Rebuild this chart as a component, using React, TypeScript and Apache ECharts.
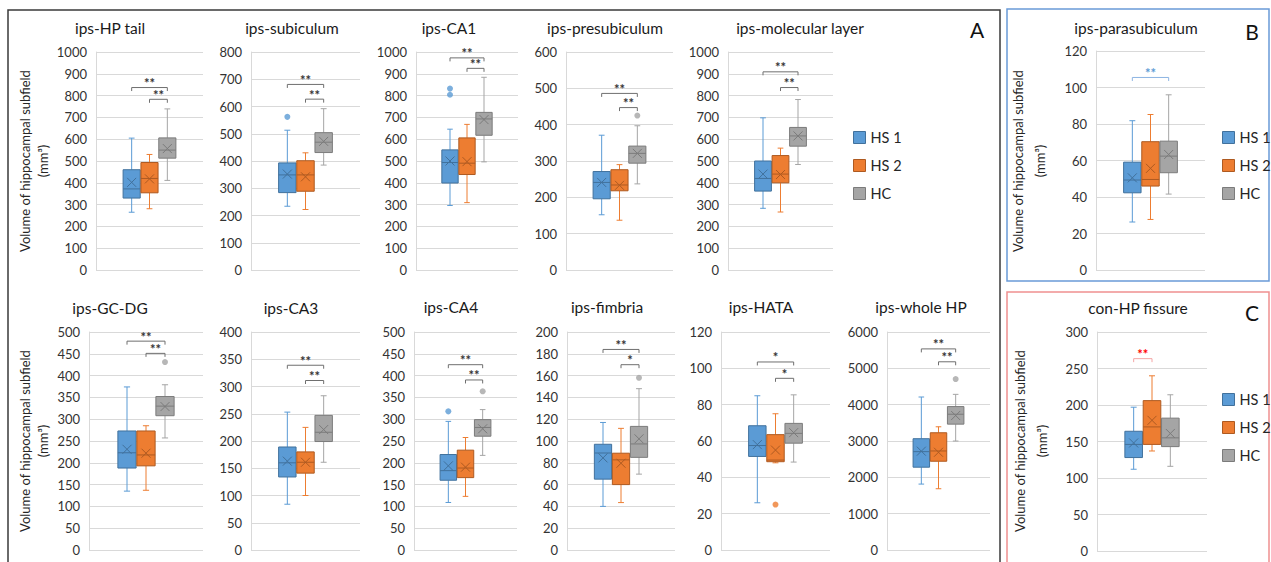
import React, { useEffect, useRef } from "react";
import * as echarts from "echarts";

// ---------- data ----------
const panelTitles = [
  "ips-HP tail", "ips-subiculum", "ips-CA1", "ips-presubiculum", "ips-molecular layer",
  "ips-GC-DG", "ips-CA3", "ips-CA4", "ips-fimbria", "ips-HATA", "ips-whole HP",
  "ips-parasubiculum", "con-HP fissure",
];
const yMax = [1000, 800, 1000, 600, 1000, 500, 400, 500, 200, 120, 6000, 120, 300];
const yStep = [100, 100, 100, 100, 100, 50, 50, 50, 20, 20, 1000, 20, 50];
const groupNames = ["HS 1", "HS 2", "HC"];

// [min, Q1, median, Q3, max, mean]
const hs1Stats = [
  [265, 330, 372, 460, 605, 402],
  [234, 284, 349, 393, 513, 352],
  [296, 399, 493, 551, 646, 500],
  [152, 196, 241, 271, 371, 241],
  [283, 362, 420, 500, 698, 440],
  [135, 188, 223, 273, 374, 231],
  [84, 134, 160, 189, 253, 163],
  [109, 160, 182, 219, 295, 193],
  [40, 65, 89, 97, 117, 84.5],
  [26, 51.5, 57.5, 68.4, 84.9, 58],
  [1814, 2279, 2707, 3063, 4211, 2720],
  [26.3, 42.3, 49.3, 59.1, 81.8, 50.5],
  [112, 128, 146, 164, 197, 148],
];
const hs2Stats = [
  [281, 354, 420, 493, 530, 418],
  [222, 289, 349, 401, 430, 342],
  [309, 438, 490, 606, 668, 497],
  [137, 218, 234, 276, 290, 233],
  [266, 400, 440, 525, 559, 438],
  [137, 193, 218, 273, 285, 222],
  [100, 141, 161, 180, 225, 161],
  [123, 166, 188, 229, 258, 190],
  [43.5, 60, 82.7, 88.8, 111.6, 79.6],
  [48, 48.6, 49.5, 63.5, 75, 55],
  [1686, 2443, 2726, 3227, 3391, 2690],
  [27.7, 46, 49.6, 70.3, 85.2, 55.7],
  [137, 146, 170, 206, 240, 179],
];
const hcStats = [
  [411, 513, 550, 606, 739, 557],
  [385, 431, 469, 504, 592, 472],
  [496, 618, 693, 723, 884, 690],
  [237, 294, 321, 341, 397, 321],
  [484, 568, 615, 654, 782, 615],
  [257, 308, 330, 352, 379, 329],
  [161, 199, 216, 247, 283, 221],
  [217, 261, 281, 299, 322, 278],
  [69.6, 85, 97.3, 113.4, 148, 102],
  [48.4, 58.8, 64.2, 69.7, 85.4, 64.6],
  [2999, 3464, 3737, 3947, 4284, 3701],
  [41.6, 53.3, 62.4, 70.6, 96, 63.3],
  [116, 143, 155, 182, 214, 161],
];
const hs1Outliers = [[], [562], [832, 804], [], [], [], [], [318], [], [], [], [], []];
const hs2Outliers = [[], [], [], [], [], [], [], [], [], [25], [], [], []];
const hcOutliers = [[], [], [], [425], [], [431], [], [364], [158], [], [4704], [], []];
// [fromGroup, toGroup, level, label]
const brackets = [
  [[0, 2, 837, "**"], [1, 2, 783, "**"]],
  [[0, 2, 681, "**"], [1, 2, 627, "**"]],
  [[0, 2, 973, "**"], [1, 2, 925, "**"]],
  [[0, 2, 486, "**"], [1, 2, 447, "**"]],
  [[0, 2, 909, "**"], [1, 2, 837, "**"]],
  [[0, 2, 479, "**"], [1, 2, 451, "**"]],
  [[0, 2, 339, "**"], [1, 2, 311, "**"]],
  [[0, 2, 425, "**"], [1, 2, 390, "**"]],
  [[0, 2, 184, "**"], [1, 2, 170, "*"]],
  [[0, 2, 103.5, "*"], [1, 2, 94.5, "*"]],
  [[0, 2, 5535, "**"], [1, 2, 5180, "**"]],
  [[0, 2, 105.5, "**"]],
  [[0, 1, 263.5, "**"]],
];

// ---------- layout & style ----------
const FONT = 'Lato, "Noto Sans", "DejaVu Sans", sans-serif';
const plotLeft = [96, 251, 416, 566, 728, 89, 251, 414, 567, 721, 887, 1096, 1097];
const plotRight = [203, 360, 518, 673, 833, 203, 360, 517, 675, 830, 990, 1205, 1207];
const plotTop = [52, 52, 52, 52, 52, 332, 332, 332, 332, 332, 332, 51, 332];
const plotBottom = [270, 270, 270, 270, 270, 550, 550, 550, 550, 550, 550, 270, 551];
const titlePos = [
  [110, 28], [292, 28], [449, 28], [605, 28], [800, 28],
  [110, 308], [291, 308], [451, 307], [607, 307], [761, 307], [921, 307],
  [1136, 28], [1138, 308],
];
const yNamePanels = [0, 5, 11, 12];
const yNamePos = [
  [25, 43, 161],
  [25, 43, 441],
  [1018, 1040, 161],
  [1020, 1042, 441],
];
const fills = ["#5B9BD5", "#ED7D31", "#A5A5A5"];
const borders = ["#41719C", "#AE5A21", "#7B7B7B"];
const bracketLine = (p: number) => (p === 11 ? "#8DB4E2" : p === 12 ? "#F4A6A6" : "#6F6F6F");
const bracketText = (p: number) => (p === 11 ? "#5B9BD5" : p === 12 ? "#FF0000" : "#333333");

export default function App() {
  const ref = useRef<HTMLDivElement>(null);
  useEffect(() => {
    if (!ref.current) return;
    const chart = echarts.init(ref.current, null, { renderer: "svg" });
    const n = panelTitles.length;
    const statsByGroup = [hs1Stats, hs2Stats, hcStats];
    const outByGroup = [hs1Outliers, hs2Outliers, hcOutliers];
    const grids: any[] = [];
    const xAxes: any[] = [];
    const yAxes: any[] = [];
    const series: any[] = [];

    for (let p = 0; p < n; p++) {
      grids.push({
        left: plotLeft[p],
        top: plotTop[p],
        width: plotRight[p] - plotLeft[p],
        height: plotBottom[p] - plotTop[p],
        containLabel: false,
        outerBoundsMode: "none",
      });
      xAxes.push({ type: "value", gridIndex: p, min: 0, max: 6, show: false });
      yAxes.push({
        type: "value",
        gridIndex: p,
        min: 0,
        max: yMax[p],
        interval: yStep[p],
        axisLine: { show: true, lineStyle: { color: "#D9D9D9", width: 1 } },
        axisTick: { show: false },
        splitLine: { show: true, lineStyle: { color: "#D9D9D9", width: 1 } },
        axisLabel: {
          fontSize: 13,
          color: "#333333",
          margin: 9,
          fontFamily: FONT,
          formatter: (v: number) => String(v),
        },
      });

      for (let g = 0; g < 3; g++) {
        const fill = fills[g];
        const border = borders[g];
        const s = statsByGroup[g][p];
        series.push({
          type: "custom",
          name: groupNames[g],
          xAxisIndex: p,
          yAxisIndex: p,
          itemStyle: { color: fill, borderColor: border, borderWidth: 1 },
          encode: { x: 0, y: [1, 2, 3, 4, 5] },
          data: [[g + 2, ...s]],
          renderItem: (_params: any, api: any) => {
            const x = api.value(0);
            const v = [1, 2, 3, 4, 5, 6].map((i) => api.value(i));
            const py = (val: number) => api.coord([x, val])[1];
            const cx = api.coord([x, v[0]])[0];
            const bw = api.size([0.96, 0])[0];
            const half = bw / 2;
            const cap = bw * 0.17;
            const yMin = py(v[0]);
            const yQ1 = py(v[1]);
            const yMed = py(v[2]);
            const yQ3 = py(v[3]);
            const yMx = py(v[4]);
            const yMean = py(v[5]);
            const m = 4.5;
            const ls = { stroke: fill, lineWidth: 1 };
            return {
              type: "group",
              children: [
                { type: "line", shape: { x1: cx, y1: yQ3, x2: cx, y2: yMx }, style: ls },
                { type: "line", shape: { x1: cx, y1: yQ1, x2: cx, y2: yMin }, style: ls },
                { type: "line", shape: { x1: cx - cap, y1: yMx, x2: cx + cap, y2: yMx }, style: ls },
                { type: "line", shape: { x1: cx - cap, y1: yMin, x2: cx + cap, y2: yMin }, style: ls },
                {
                  type: "rect",
                  shape: { x: cx - half, y: yQ3, width: bw, height: yQ1 - yQ3 },
                  style: { fill, stroke: border, lineWidth: 1 },
                },
                { type: "line", shape: { x1: cx - half, y1: yMed, x2: cx + half, y2: yMed }, style: { stroke: border, lineWidth: 1 } },
                { type: "line", shape: { x1: cx - m, y1: yMean - m, x2: cx + m, y2: yMean + m }, style: { stroke: border, lineWidth: 1 } },
                { type: "line", shape: { x1: cx - m, y1: yMean + m, x2: cx + m, y2: yMean - m }, style: { stroke: border, lineWidth: 1 } },
              ],
            };
          },
          z: 2,
        });
        const outs = outByGroup[g][p];
        if (outs.length) {
          series.push({
            type: "scatter",
            name: groupNames[g],
            xAxisIndex: p,
            yAxisIndex: p,
            symbol: "circle",
            symbolSize: 6,
            itemStyle: { color: fill },
            data: outs.map((o) => [g + 2, o]),
            z: 3,
          });
        }
      }

      const br = brackets[p];
      const lc = bracketLine(p);
      const tc = bracketText(p);
      series.push({
        type: "custom",
        name: "sig" + p,
        xAxisIndex: p,
        yAxisIndex: p,
        encode: { x: [0, 1], y: 2 },
        data: br.map((b: any) => [b[0] + 2, b[1] + 2, b[2]]),
        renderItem: (params: any, api: any) => {
          const lvl = api.value(2);
          const p1 = api.coord([api.value(0), lvl]);
          const p2 = api.coord([api.value(1), lvl]);
          const t = 3.5;
          const label = br[params.dataIndex][3];
          return {
            type: "group",
            children: [
              {
                type: "polyline",
                shape: { points: [[p1[0], p1[1] + t], [p1[0], p1[1]], [p2[0], p2[1]], [p2[0], p2[1] + t]] },
                style: { stroke: lc, fill: "none", lineWidth: 1 },
              },
              {
                type: "text",
                x: (p1[0] + p2[0]) / 2,
                y: p1[1] + 2,
                style: {
                  text: label,
                  fill: tc,
                  fontSize: 13,
                  fontFamily: FONT,
                  fontWeight: "bold",
                  align: "center",
                  verticalAlign: "bottom",
                  textAlign: "center",
                  textVerticalAlign: "bottom",
                },
              },
            ],
          };
        },
        z: 4,
      });
    }

    const graphics: any[] = [];
    graphics.push({ type: "rect", shape: { x: 8, y: 10, width: 992, height: 570 }, style: { fill: "none", stroke: "#3A3A3A", lineWidth: 1.5 }, z: 0 });
    graphics.push({ type: "rect", shape: { x: 1007, y: 9, width: 262, height: 272 }, style: { fill: "none", stroke: "#6A9BD8", lineWidth: 1.5 }, z: 0 });
    graphics.push({ type: "rect", shape: { x: 1007, y: 292, width: 262, height: 290 }, style: { fill: "none", stroke: "#F09090", lineWidth: 1.5 }, z: 0 });
    const txt = (text: string, x: number, y: number, size: number, color: string, rot = 0) => ({
      type: "text",
      x,
      y,
      rotation: rot,
      style: {
        text,
        fill: color,
        fontSize: size,
        fontFamily: FONT,
        align: "center",
        verticalAlign: "middle",
        textAlign: "center",
        textVerticalAlign: "middle",
      },
      z: 10,
    });
    for (let p = 0; p < n; p++) {
      graphics.push(txt(panelTitles[p], titlePos[p][0], titlePos[p][1], 15.5, "#1A1A1A"));
    }
    yNamePanels.forEach((p, i) => {
      const [x1, x2, cy] = yNamePos[i];
      graphics.push(txt("Volume of hippocampal subfield", x1, cy, 13, "#262626", Math.PI / 2));
      graphics.push(txt("(mm³)", x2, cy, 13, "#262626", Math.PI / 2));
    });
    graphics.push(txt("A", 977, 29, 21, "#111111"));
    graphics.push(txt("B", 1252, 31, 21, "#111111"));
    graphics.push(txt("C", 1252, 312, 21, "#111111"));

    const legendBase = {
      data: groupNames,
      orient: "vertical",
      itemWidth: 12,
      itemHeight: 12,
      itemGap: 13,
      icon: "rect",
      padding: 0,
      selectedMode: false,
      itemStyle: { borderWidth: 1 },
      textStyle: { fontSize: 14.5, color: "#262626", fontFamily: FONT, lineHeight: 14 },
    };

    chart.setOption({
      animation: false,
      backgroundColor: "#ffffff",
      textStyle: { fontFamily: FONT },
      grid: grids,
      xAxis: xAxes,
      yAxis: yAxes,
      legend: [
        { ...legendBase, left: 853, top: 130 },
        { ...legendBase, left: 1222, top: 130 },
        { ...legendBase, left: 1222, top: 392 },
      ],
      graphic: { elements: graphics },
      series,
    });
    return () => chart.dispose();
  }, []);
  return (
    <div
      ref={ref}
      style={{ position: "fixed", left: 0, top: 0, width: 1271, height: 562, background: "#fff" }}
    />
  );
}
